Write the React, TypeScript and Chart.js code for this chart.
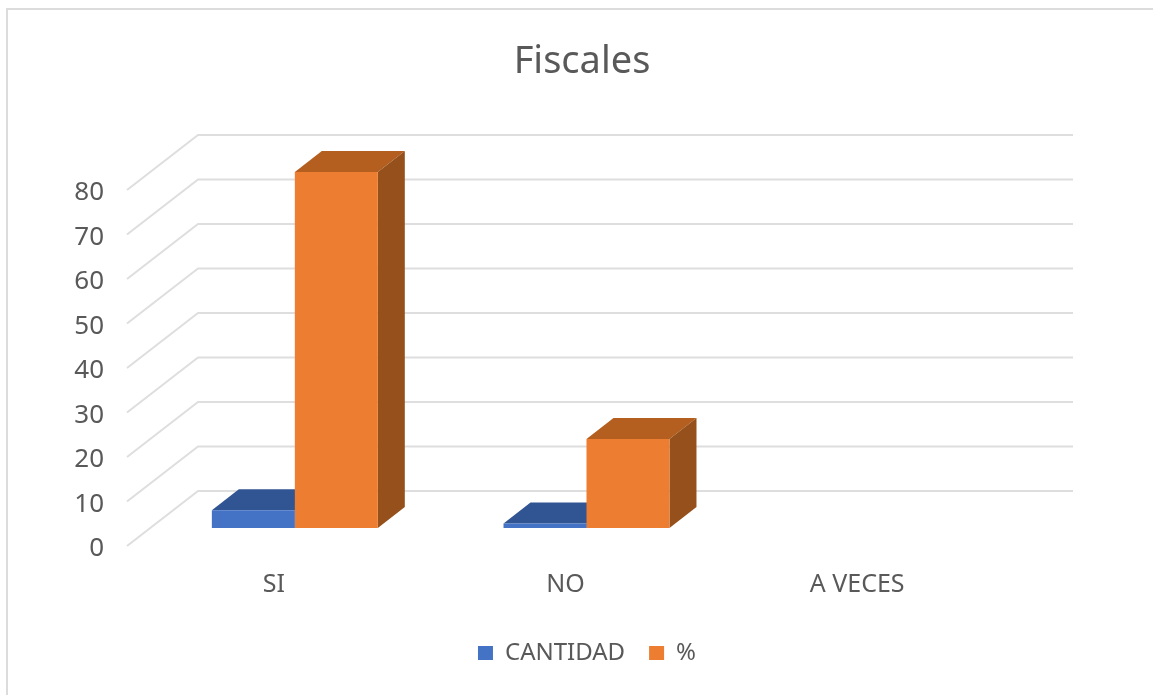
import React, { useEffect, useRef } from "react";
import { Chart, registerables } from "chart.js";

Chart.register(...registerables);

const categories = ["SI", "NO", "A VECES"];
const cantidad = [4, 1, 0];
const porcentaje = [80, 20, 0];
const yTicks = [0, 10, 20, 30, 40, 50, 60, 70, 80];

const FONT = "'Noto Sans', sans-serif";
const TEXT = "#595959";
const GRID = "#DEDEDE";

// Bars stand on a plane inside the floor; the walls reach in front of and behind it.
const FRONT = { dx: -22, dy: 18 };
const BACK = { dx: 49, dy: -37 };
const BAR_DEPTH = { dx: 27, dy: -21 };

const shades = [
  { top: "#315592", side: "#2C4C83" },
  { top: "#B45F20", side: "#95501B" },
];

// Draws the frame and the wall and floor lines of the 3D box, one per y tick.
const wallGrid = {
  id: "wallGrid",
  beforeDraw(chart: any) {
    const { ctx, width, height } = chart;
    ctx.save();
    ctx.fillStyle = "#FFFFFF";
    ctx.fillRect(0, 0, width, height);
    ctx.strokeStyle = "#DCDCDC";
    ctx.lineWidth = 2;
    ctx.beginPath();
    ctx.moveTo(7, height);
    ctx.lineTo(7, 9);
    ctx.lineTo(width, 9);
    ctx.stroke();
    ctx.restore();
  },
  beforeDatasetsDraw(chart: any) {
    const { ctx, chartArea, scales } = chart;
    ctx.save();
    ctx.strokeStyle = GRID;
    ctx.lineWidth = 2;
    ctx.lineJoin = "round";
    scales.y.ticks.forEach((tick: any) => {
      const y = scales.y.getPixelForValue(tick.value);
      ctx.beginPath();
      ctx.moveTo(chartArea.left + FRONT.dx, y + FRONT.dy);
      ctx.lineTo(chartArea.left + BACK.dx, y + BACK.dy);
      ctx.lineTo(chartArea.right + BACK.dx, y + BACK.dy);
      ctx.stroke();
    });
    ctx.restore();
  },
};

// Paints the top and right faces of every bar before any front face goes on,
// first series first, so that a neighbouring front face covers them.
const barFaces = {
  id: "barFaces",
  beforeDatasetsDraw(chart: any) {
    const { ctx } = chart;
    chart.data.datasets.forEach((_: any, index: number) => {
      const shade = shades[index];
      chart.getDatasetMeta(index).data.forEach((bar: any) => {
        const { x, y, base, width } = bar.getProps(["x", "y", "base", "width"], true);
        if (Math.abs(base - y) < 0.5) return;
        const l = x - width / 2;
        const r = x + width / 2;
        ctx.save();
        ctx.fillStyle = shade.top;
        ctx.beginPath();
        ctx.moveTo(l, y);
        ctx.lineTo(l + BAR_DEPTH.dx, y + BAR_DEPTH.dy);
        ctx.lineTo(r + BAR_DEPTH.dx, y + BAR_DEPTH.dy);
        ctx.lineTo(r, y);
        ctx.closePath();
        ctx.fill();
        ctx.fillStyle = shade.side;
        ctx.beginPath();
        ctx.moveTo(r, y);
        ctx.lineTo(r + BAR_DEPTH.dx, y + BAR_DEPTH.dy);
        ctx.lineTo(r + BAR_DEPTH.dx, base + BAR_DEPTH.dy);
        ctx.lineTo(r, base);
        ctx.closePath();
        ctx.fill();
        ctx.restore();
      });
    });
  },
};

// The legend sits a little right of the title's centre line.
const legendShift = {
  id: "legendShift",
  afterLayout(chart: any) {
    chart.legend.left += 5;
    chart.legend.right += 5;
  },
};

export default function App() {
  const ref = useRef<HTMLCanvasElement>(null);

  useEffect(() => {
    const chart = new Chart(ref.current!, {
      type: "bar",
      data: {
        labels: categories,
        datasets: [
          { label: "CANTIDAD", data: cantidad, backgroundColor: "#4472C4" },
          { label: "%", data: porcentaje, backgroundColor: "#ED7D31" },
        ],
      },
      plugins: [wallGrid, barFaces, legendShift],
      options: {
        responsive: false,
        animation: false,
        layout: { padding: { left: 11, right: 0, top: 0, bottom: 20 } },
        datasets: { bar: { barPercentage: 1, categoryPercentage: 0.569 } },
        plugins: {
          tooltip: { enabled: false },
          title: {
            display: true,
            text: "Fiscales",
            color: TEXT,
            font: { family: FONT, size: 38, weight: "normal" },
            padding: { top: 39, bottom: 87.4 },
          },
          legend: {
            position: "bottom",
            labels: {
              color: TEXT,
              boxWidth: 15,
              boxHeight: 14,
              padding: 24,
              font: { family: FONT, size: 24 },
            },
          },
        },
        scales: {
          x: {
            grid: { display: false },
            border: { display: false },
            ticks: {
              color: TEXT,
              font: { family: FONT, size: 25 },
              labelOffset: -21,
              padding: 33.5,
              maxRotation: 0,
              autoSkip: false,
            },
            afterFit(scale: any) {
              scale.height = 89;
            },
          },
          y: {
            min: yTicks[0],
            max: yTicks[yTicks.length - 1],
            afterBuildTicks(scale: any) {
              scale.ticks = yTicks.map((value) => ({ value }));
            },
            grid: { display: false },
            border: { display: false },
            ticks: {
              color: TEXT,
              font: { family: FONT, size: 26 },
              labelOffset: 21,
              padding: 37,
            },
            afterFit(scale: any) {
              scale.width = 138;
            },
          },
          rightMargin: {
            position: "right",
            grid: { display: false },
            border: { display: false },
            ticks: { display: false },
            afterFit(scale: any) {
              scale.width = 129;
            },
          },
        },
      },
    } as any);
    return () => chart.destroy();
  }, []);

  return (
    <canvas
      ref={ref}
      width={1153}
      height={695}
      style={{ position: "absolute", left: 0, top: 0, display: "block" }}
    />
  );
}
